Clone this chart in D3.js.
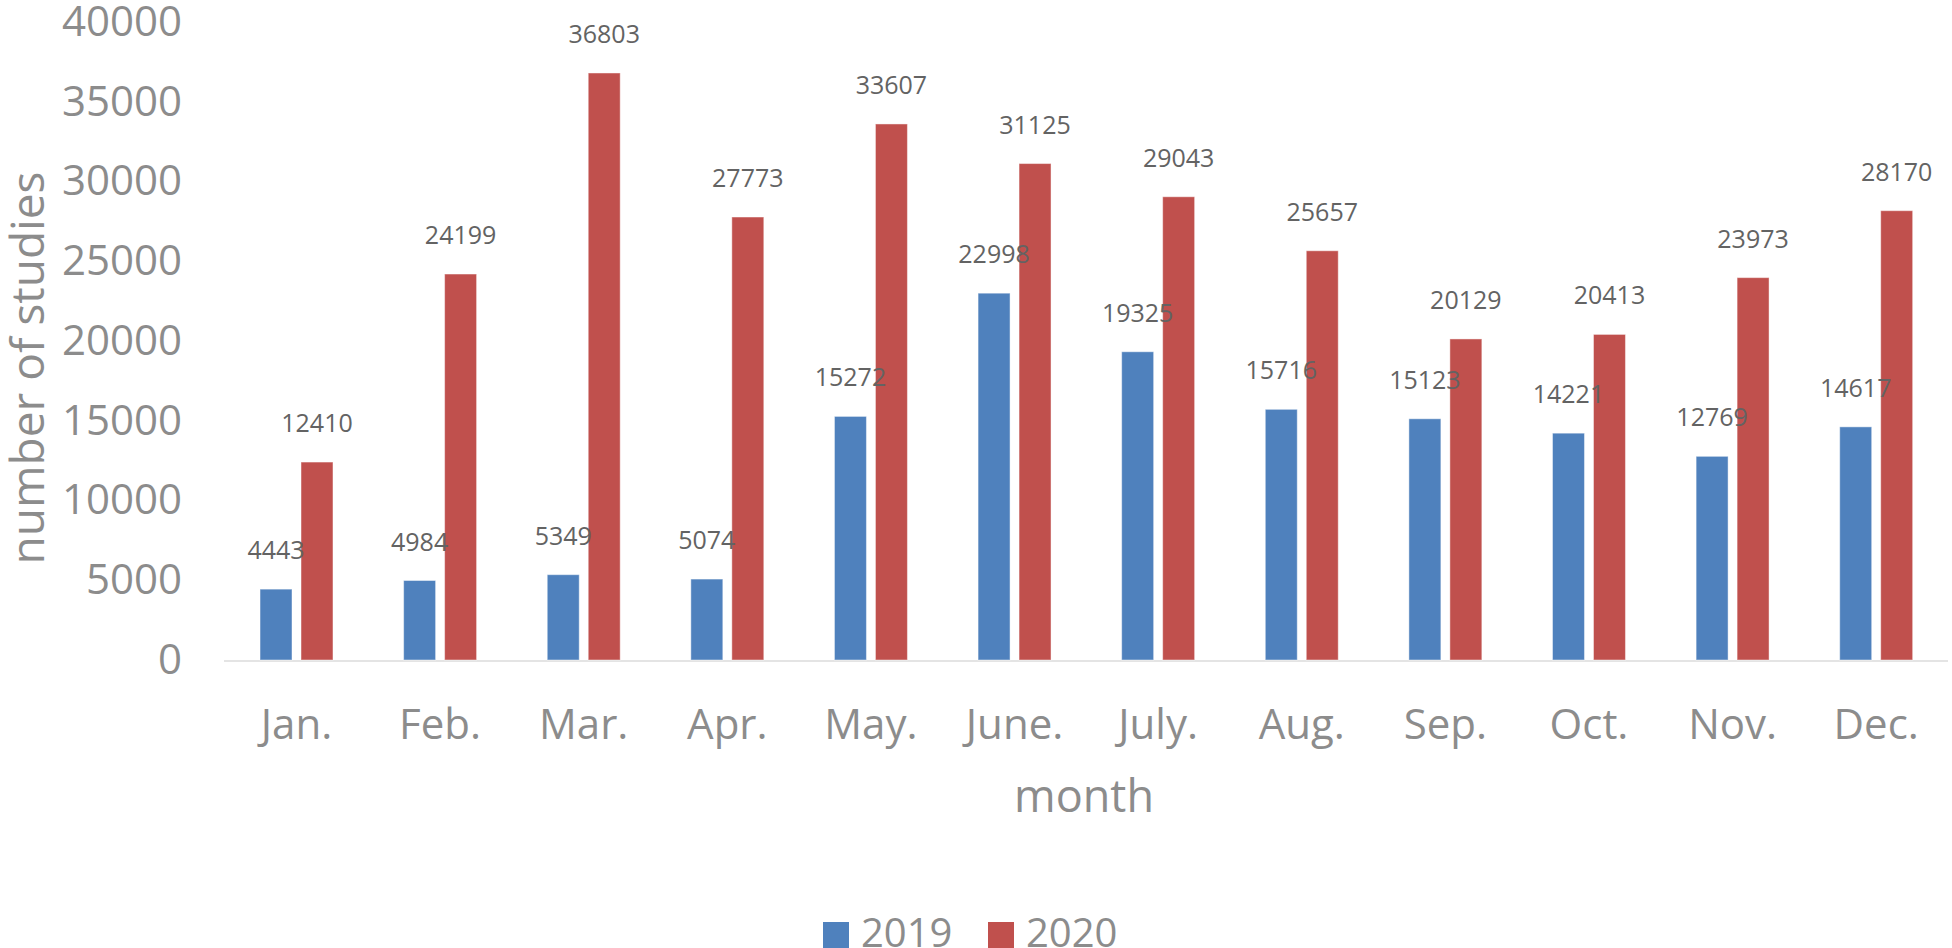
<!DOCTYPE html>
<html>
<head>
<meta charset="utf-8">
<script src="https://cdn.jsdelivr.net/npm/d3@7"></script>
<style>
  body { margin: 0; background: #fff; }
  text { font-family: "Open Sans", sans-serif; }
</style>
</head>
<body>
<svg id="chart" width="1952" height="948"></svg>
<script>
// data
const months = ["Jan.", "Feb.", "Mar.", "Apr.", "May.", "June.", "July.", "Aug.", "Sep.", "Oct.", "Nov.", "Dec."]
const years = ["2019", "2020"]
const values2019 = [4443, 4984, 5349, 5074, 15272, 22998, 19325, 15716, 15123, 14221, 12769, 14617]
const values2020 = [12410, 24199, 36803, 27773, 33607, 31125, 29043, 25657, 20129, 20413, 23973, 28170]
const yTicks = [0, 5000, 10000, 15000, 20000, 25000, 30000, 35000, 40000]
const colors = {"2019": "#4F81BD", "2020": "#C0504D"}

let rows = []
months.forEach(function(m, i){
  rows.push({"month": m, "year": "2019", "v": values2019[i]})
  rows.push({"month": m, "year": "2020", "v": values2020[i]})
})

let svg = d3.select("#chart")

let x0 = d3.scaleBand().domain(months).range([224.7, 1948]).padding(0)
let x1 = d3.scaleBand().domain(years).range([0, x0.bandwidth()])
  .paddingInner(0.22).paddingOuter(0.862)
let y = d3.scaleLinear().domain([0, 40000]).range([660, 22])

// baseline
svg.append("line")
  .attr("x1", 224).attr("x2", 1948)
  .attr("y1", 661).attr("y2", 661)
  .attr("stroke", "#e4e4e4").attr("stroke-width", 2)

// y axis
let yAxis = svg.append("g")
  .attr("transform", "translate(224,0)")
  .call(d3.axisLeft(y).tickValues(yTicks).tickSize(0).tickPadding(42).tickFormat(d3.format("d")))
yAxis.select(".domain").remove()
yAxis.selectAll("text")
  .attr("fill", "#8c8c8c")
  .style("font-size", "42px")
  .style("font-family", "'Open Sans', sans-serif")

// x axis labels
let xAxis = svg.append("g")
  .attr("transform", "translate(0,661)")
  .call(d3.axisBottom(x0).tickSize(0).tickPadding(48))
xAxis.select(".domain").remove()
xAxis.selectAll("text")
  .attr("fill", "#8c8c8c")
  .style("font-size", "42px")
  .style("font-family", "'Open Sans', sans-serif")

// bars
svg.selectAll("rect.bar")
  .data(rows)
  .enter()
  .append("rect")
  .attr("class", "bar")
  .attr("x", function(d){ return x0(d.month) + x1(d.year) })
  .attr("y", function(d){ return y(d.v) })
  .attr("width", x1.bandwidth())
  .attr("height", function(d){ return y(0) - y(d.v) })
  .attr("fill", function(d){ return colors[d.year] })
  .attr("stroke", "#ffffff")
  .attr("stroke-opacity", 0.45)
  .attr("stroke-width", 1)

// value labels
svg.selectAll("text.val")
  .data(rows)
  .enter()
  .append("text")
  .attr("class", "val")
  .attr("x", function(d){ return x0(d.month) + x1(d.year) + x1.bandwidth() / 2 })
  .attr("y", function(d){ return y(d.v) - 30 })
  .attr("text-anchor", "middle")
  .attr("fill", "#636363")
  .style("font-size", "25px")
  .text(function(d){ return d.v })

// axis titles
svg.append("text")
  .attr("transform", "translate(44,368) rotate(-90)")
  .attr("text-anchor", "middle")
  .attr("fill", "#8c8c8c")
  .style("font-size", "46px")
  .text("number of studies")

svg.append("text")
  .attr("x", 1084).attr("y", 812)
  .attr("text-anchor", "middle")
  .attr("fill", "#8c8c8c")
  .style("font-size", "45px")
  .text("month")

// legend
let legend = svg.append("g")
let legendX = [823, 988]
years.forEach(function(yr, i){
  legend.append("rect")
    .attr("x", legendX[i]).attr("y", 922)
    .attr("width", 26).attr("height", 26)
    .attr("fill", colors[yr])
  legend.append("text")
    .attr("x", legendX[i] + 38).attr("y", 947)
    .attr("fill", "#8c8c8c")
    .style("font-size", "40px")
    .text(yr)
})
</script>
</body>
</html>
